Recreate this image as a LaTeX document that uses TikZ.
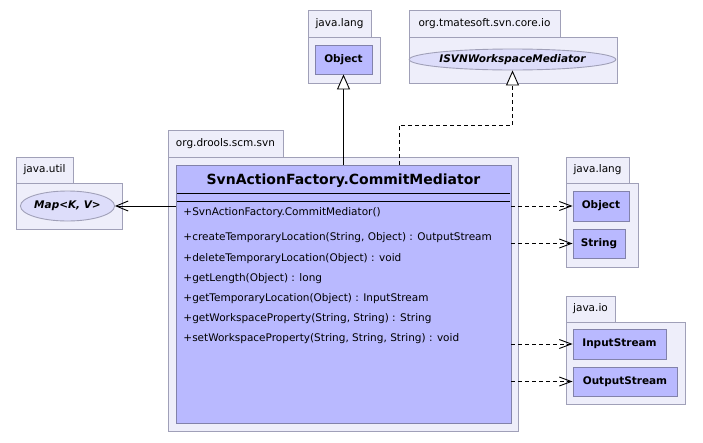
\documentclass[tikz,border=0pt]{standalone}
\usepackage{fontspec}
\setmainfont{DejaVu Sans}
\usetikzlibrary{arrows.meta,shapes.geometric}
\definecolor{pkgfill}{RGB}{238,238,250}
\definecolor{pkgline}{RGB}{160,160,184}
\definecolor{clsfill}{RGB}{185,185,255}
\definecolor{clsline}{RGB}{130,130,170}
\definecolor{ifcfill}{RGB}{221,221,250}
\tikzset{
	pkg/.style={draw=pkgline, fill=pkgfill, line width=0.9pt},
	pkgname/.style={font=\fontsize{10.5}{12}\selectfont, inner sep=0pt},
	cls/.style={draw=clsline, fill=clsfill, line width=0.9pt, inner sep=0pt, font=\fontsize{10.5}{12}\selectfont\bfseries},
	ifc/.style={ellipse, draw=pkgline, fill=ifcfill, line width=0.9pt, inner sep=0pt, font=\fontsize{10.5}{12}\selectfont\bfseries\itshape},
	member/.style={anchor=west, inner sep=0pt, font=\fontsize{10.5}{12}\selectfont},
	dep/.style={dash pattern=on 4pt off 3pt, -{Straight Barb[length=12pt,width=9pt]}},
	assoc/.style={-{Straight Barb[length=12pt,width=10pt]}},
	gen/.style={-{Triangle[open,fill=white,length=15pt,width=13pt]}},
	real/.style={dash pattern=on 4pt off 3pt, -{Triangle[open,fill=white,length=15pt,width=13pt]}}
}
\begin{document}
\begin{tikzpicture}[x=1pt, y=-1pt, line join=miter, line width=0.9pt]
	\useasboundingbox[fill=white] (0,0) rectangle (703,442);
	% packages
	\draw[pkg] (308,10) rectangle (371,37) (308,37) rectangle (380,83);
	\node[pkgname] at (339.5,23.5) {java.lang};
	\draw[pkg] (409,10) rectangle (560,37) (409,37) rectangle (617,83);
	\node[pkgname] at (484.5,23.5) {org.tmatesoft.svn.core.io};
	\draw[pkg] (16,157) rectangle (73,183) (16,183) rectangle (122,229);
	\node[pkgname] at (44.5,170) {java.util};
	\draw[pkg] (168,130) rectangle (283,157) (168,157) rectangle (518,431);
	\node[pkgname] at (225.5,143.5) {org.drools.scm.svn};
	\draw[pkg] (566,157) rectangle (629,183) (566,183) rectangle (638,267);
	\node[pkgname] at (597.5,170) {java.lang};
	\draw[pkg] (566,296) rectangle (615,322) (566,322) rectangle (685,404);
	\node[pkgname] at (590.5,309) {java.io};
	% classes
	\node[cls, minimum width=57, minimum height=29] (objtop) at (343.5,59.5) {Object};
	\node[ifc, minimum width=191, minimum height=21] (isvn) at (512.5,59.5) {ISVNWorkspaceMediator};
	\node[ifc, minimum width=89, minimum height=30] (map) at (67.5,206) {Map<K, V>};
	\node[cls, minimum width=56, minimum height=30] (objright) at (601,206) {Object};
	\node[cls, minimum width=52, minimum height=29] (str) at (599,243.5) {String};
	\node[cls, minimum width=93, minimum height=30] (instr) at (619.5,344) {InputStream};
	\node[cls, minimum width=104, minimum height=29] (outstr) at (625,381.5) {OutputStream};
	% main class
	\node[cls, minimum width=335, minimum height=258] (cm) at (343.5,294) {};
	\node[font=\fontsize{14}{16}\selectfont\bfseries, inner sep=0pt] (cmname) at (343.5,181) {SvnActionFactory.CommitMediator};
	\draw[line width=1pt] (177,193) -- (510,193) (177,201) -- (510,201);
	\node[member] (ctor) at (183,213) {+SvnActionFactory.CommitMediator()};
	\foreach \sig [count=\k from 0] in {{createTemporaryLocation(String, Object) : OutputStream},
		{deleteTemporaryLocation(Object) : void},
		{getLength(Object) : long},
		{getTemporaryLocation(Object) : InputStream},
		{getWorkspaceProperty(String, String) : String},
		{setWorkspaceProperty(String, String, String) : void}}
	\node[member] (m\k) at (183,238+20.2*\k) {+\sig};
	% connectors
	\draw[gen] (cm.north -| objtop.south) -- (objtop.south);
	\coordinate (realstart) at (399,165);
	\coordinate (realbend) at (512.5,125);
	\draw[real] (realstart) |- (realbend) -- (isvn.south);
	\draw[assoc] (cm.west |- map.east) -- (map.east);
	\draw[dep] (cm.east |- objright.west) -- (objright.west);
	\draw[dep] (cm.east |- str.west) -- (str.west);
	\draw[dep] (cm.east |- instr.west) -- (instr.west);
	\draw[dep] (cm.east |- outstr.west) -- (outstr.west);
\end{tikzpicture}
\end{document}
